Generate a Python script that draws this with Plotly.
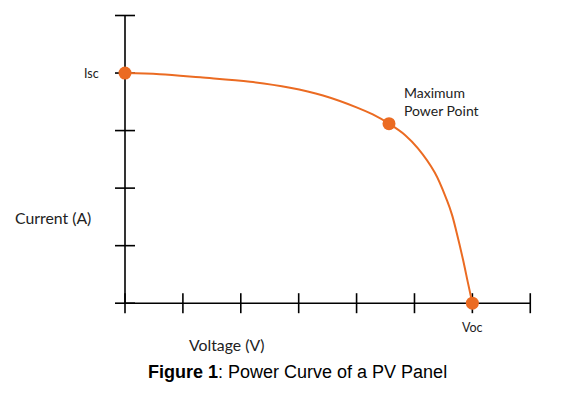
import plotly.graph_objects as go

# --- data (axis units: one tick = one unit) ---
curve_v = [0.0, 0.60, 1.30, 2.16, 2.85, 3.42, 4.01, 4.28, 4.56, 4.84, 5.06, 5.35, 5.56, 5.65, 5.73, 5.84, 5.92, 6.0]
curve_i = [4.0, 3.98, 3.925, 3.85, 3.745, 3.61, 3.40, 3.28, 3.12, 2.92, 2.69, 2.27, 1.79, 1.53, 1.22, 0.75, 0.37, 0.0]
point_names = ["Isc", "Maximum<br>Power Point", "Voc"]
point_v = [0.0, 4.56, 6.0]
point_i = [4.0, 3.12, 0.0]
x_ticks = [0, 1, 2, 3, 4, 5, 6, 7]
y_ticks = [0, 1, 2, 3, 4, 5]
x_title = "Voltage (V)"
y_title = "Current (A)"
fig_title = "<b>Figure 1</b>: Power Curve of a PV Panel"

ORANGE = "#EB6B22"
LABEL_FONT = "Lato, 'Open Sans', sans-serif"

W, H = 563, 396
sx = 57.895  # px per unit
sy = 57.54
x0px, y0px = 125, 303.2
xr = [-x0px / sx, (W - x0px) / sx]
yr = [-(H - y0px) / sy, y0px / sy]

fig = go.Figure()
fig.add_trace(go.Scatter(x=curve_v, y=curve_i, mode="lines", line=dict(color=ORANGE, width=2, shape="spline"),
                         hoverinfo="skip", showlegend=False))
fig.add_trace(go.Scatter(x=point_v, y=point_i, mode="markers", marker=dict(color=ORANGE, size=13),
                         showlegend=False, cliponaxis=False))

shapes = []
# axis lines
shapes.append(dict(type="line", xref="x", yref="y", x0=0, x1=x_ticks[-1], y0=0, y1=0,
                   line=dict(color="black", width=1.6), layer="below"))
shapes.append(dict(type="line", xref="x", yref="y", x0=0, x1=0, y0=0, y1=y_ticks[-1],
                   line=dict(color="black", width=1.6), layer="below"))
for t in x_ticks:
    shapes.append(dict(type="line", xref="x", yref="y", x0=t, x1=t, ysizemode="pixel", yanchor=0, y0=-10, y1=10,
                       line=dict(color="black", width=1.6), layer="below"))
for t in y_ticks:
    shapes.append(dict(type="line", xref="x", yref="y", y0=t, y1=t, xsizemode="pixel", xanchor=0, x0=-10, x1=10,
                       line=dict(color="black", width=1.6), layer="below"))

annotations = [
    dict(x=point_v[0], y=point_i[0], text=point_names[0], showarrow=False, xanchor="right", xshift=-24,
         font=dict(family=LABEL_FONT, size=12.5, color="#222")),
    dict(x=point_v[1], y=point_i[1], text=point_names[1], showarrow=False, xanchor="left", yanchor="middle",
         xshift=13, yshift=22.5, align="left", font=dict(family=LABEL_FONT, size=14, color="#222")),
    dict(x=point_v[2], y=point_i[2], text=point_names[2], showarrow=False, yshift=-24,
         font=dict(family=LABEL_FONT, size=12.5, color="#222")),
    dict(x=(53 - x0px) / sx, y=(y0px - 217) / sy, text=y_title, showarrow=False,
         font=dict(family=LABEL_FONT, size=15.8, color="#222")),
    dict(x=(227 - x0px) / sx, y=(y0px - 344) / sy, text=x_title, showarrow=False,
         font=dict(family=LABEL_FONT, size=15.8, color="#222")),
    dict(x=(297 - x0px) / sx, y=(y0px - 372) / sy, text=fig_title, showarrow=False,
         font=dict(family="'Liberation Sans', Arial, sans-serif", size=18, color="black")),
]

fig.update_layout(
    width=W, height=H, margin=dict(l=0, r=0, t=0, b=0),
    paper_bgcolor="white", plot_bgcolor="white",
    xaxis=dict(range=xr, visible=False, fixedrange=True),
    yaxis=dict(range=yr, visible=False, fixedrange=True),
    shapes=shapes, annotations=annotations, showlegend=False,
)
fig.write_html("out.html", config={"displayModeBar": False},
               post_script="document.body.style.margin='0';document.body.style.overflow='hidden';")
